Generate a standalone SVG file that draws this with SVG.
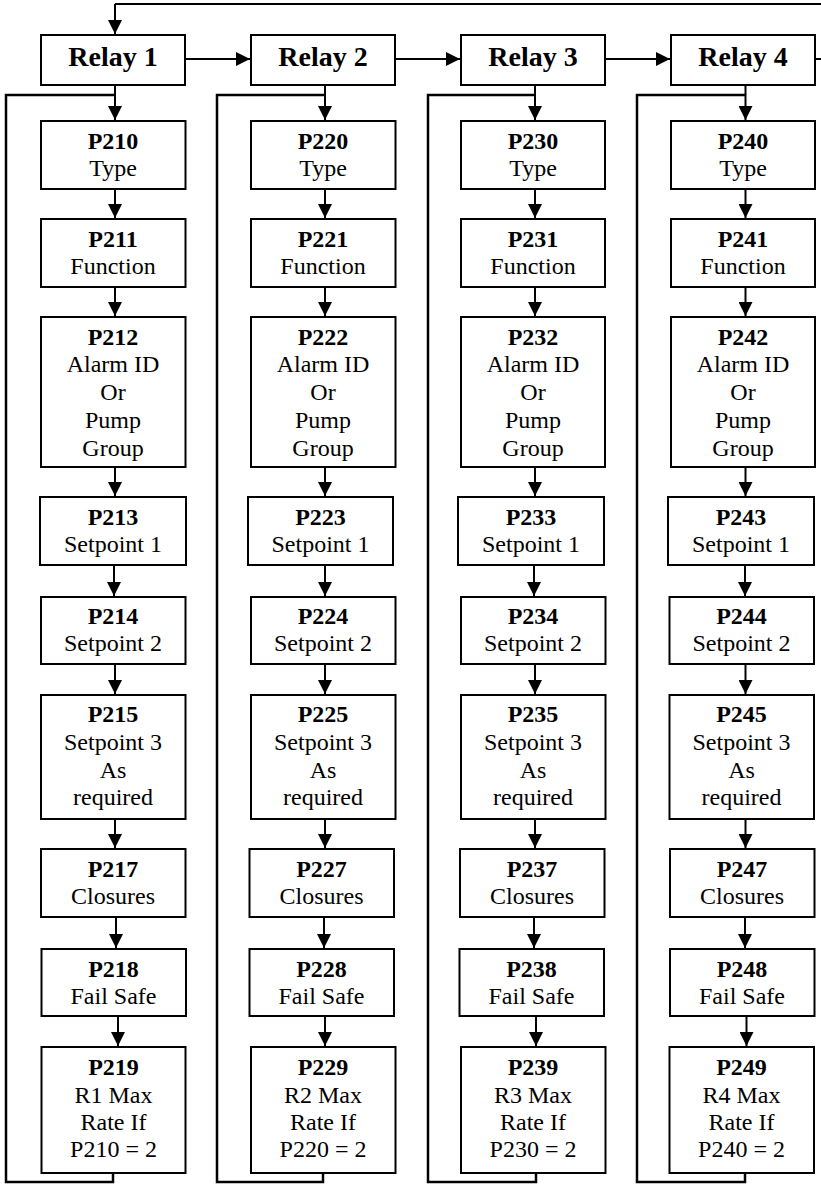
<svg xmlns="http://www.w3.org/2000/svg" width="821" height="1184" viewBox="0 0 821 1184">
<style>
.box{fill:#fff;stroke:#000;stroke-width:2}
.t{font-family:'Liberation Serif',Tinos,'Times New Roman',Times,'DejaVu Serif',serif;font-size:24px;fill:#000;text-anchor:middle}
.b{font-weight:bold}
.relay{font-family:'Liberation Serif',Tinos,'Times New Roman',Times,'DejaVu Serif',serif;font-size:28px;font-weight:bold;fill:#000;text-anchor:middle}
.c{fill:none;stroke:#000;stroke-width:2}
.a{fill:none;stroke:#000;stroke-width:2;marker-end:url(#ah)}
.lp{fill:none;stroke:#000;stroke-width:2.5}
</style>
<defs>
<marker id="ah" viewBox="0 0 14 14" refX="14" refY="7" markerWidth="14" markerHeight="14" markerUnits="userSpaceOnUse" orient="auto">
<path d="M0,0 L14,7 L0,14 z" fill="#000"/>
</marker>
</defs>
<g id="connectors">
<path class="c" d="M815,59 H823 V4 H115"/>
<path class="a" d="M115,4 V34"/>
<path class="a" d="M185,59 H250"/>
<path class="a" d="M395,59 H460"/>
<path class="a" d="M605,59 H670"/>
<path class="a" d="M115,85 V120"/>
<path class="a" d="M115,189 V218"/>
<path class="a" d="M115,287 V316"/>
<path class="a" d="M115,467 V496"/>
<path class="a" d="M114,565 V596"/>
<path class="a" d="M115,664 V694"/>
<path class="a" d="M115,819 V848"/>
<path class="a" d="M116,917 V948"/>
<path class="a" d="M118,1016 V1046"/>
<path class="lp" d="M113,1173 V1182 H6 V95 H115"/>
<path class="a" d="M325,85 V120"/>
<path class="a" d="M325,189 V218"/>
<path class="a" d="M325,287 V316"/>
<path class="a" d="M325,467 V496"/>
<path class="a" d="M325,565 V596"/>
<path class="a" d="M325,664 V694"/>
<path class="a" d="M325,819 V848"/>
<path class="a" d="M324,917 V948"/>
<path class="a" d="M325,1016 V1046"/>
<path class="lp" d="M323,1173 V1182 H217 V95 H325"/>
<path class="a" d="M535,85 V120"/>
<path class="a" d="M535,189 V218"/>
<path class="a" d="M535,287 V316"/>
<path class="a" d="M535,467 V496"/>
<path class="a" d="M534,565 V596"/>
<path class="a" d="M535,664 V694"/>
<path class="a" d="M535,819 V848"/>
<path class="a" d="M534,917 V948"/>
<path class="a" d="M536,1016 V1046"/>
<path class="lp" d="M536,1173 V1182 H428 V95 H535"/>
<path class="a" d="M745.5,85 V120"/>
<path class="a" d="M745.5,189 V218"/>
<path class="a" d="M745.5,287 V316"/>
<path class="a" d="M745.5,467 V496"/>
<path class="a" d="M745,565 V596"/>
<path class="a" d="M745.5,664 V694"/>
<path class="a" d="M745.5,819 V848"/>
<path class="a" d="M745,917 V948"/>
<path class="a" d="M746.5,1016 V1046"/>
<path class="lp" d="M745,1173 V1182 H637 V95 H745.5"/>
</g>

<g id="relay1"><rect class="box" x="41" y="35" width="144" height="50"/><text class="relay" x="113" y="66">Relay 1</text></g>
<g id="relay2"><rect class="box" x="251" y="35" width="144" height="50"/><text class="relay" x="323" y="66">Relay 2</text></g>
<g id="relay3"><rect class="box" x="461" y="35" width="144" height="50"/><text class="relay" x="533" y="66">Relay 3</text></g>
<g id="relay4"><rect class="box" x="671" y="35" width="144" height="50"/><text class="relay" x="743" y="66">Relay 4</text></g>

<g id="p210"><rect class="box" x="41" y="121" width="144.5" height="68"/><text class="t"><tspan class="b" x="113" y="149">P210</tspan><tspan x="113" y="176">Type</tspan></text></g>
<g id="p211"><rect class="box" x="41" y="219" width="144.5" height="68"/><text class="t"><tspan class="b" x="113" y="247">P211</tspan><tspan x="113" y="274">Function</tspan></text></g>
<g id="p212"><rect class="box" x="41" y="317" width="144.5" height="150"/><text class="t"><tspan class="b" x="113" y="345">P212</tspan><tspan x="113" y="372">Alarm ID</tspan><tspan x="113" y="400">Or</tspan><tspan x="113" y="428">Pump</tspan><tspan x="113" y="456">Group</tspan></text></g>
<g id="p213"><rect class="box" x="40" y="497" width="146" height="68"/><text class="t"><tspan class="b" x="113" y="525">P213</tspan><tspan x="113" y="552">Setpoint 1</tspan></text></g>
<g id="p214"><rect class="box" x="41" y="597" width="144.5" height="67"/><text class="t"><tspan class="b" x="113" y="624">P214</tspan><tspan x="113" y="651">Setpoint 2</tspan></text></g>
<g id="p215"><rect class="box" x="41" y="695" width="144.5" height="124"/><text class="t"><tspan class="b" x="113" y="722">P215</tspan><tspan x="113" y="750">Setpoint 3</tspan><tspan x="113" y="778">As</tspan><tspan x="113" y="805">required</tspan></text></g>
<g id="p217"><rect class="box" x="41" y="849" width="144.5" height="68"/><text class="t"><tspan class="b" x="113" y="876.5">P217</tspan><tspan x="113" y="903.5">Closures</tspan></text></g>
<g id="p218"><rect class="box" x="41.5" y="949" width="144.5" height="67"/><text class="t"><tspan class="b" x="113.5" y="976.5">P218</tspan><tspan x="113.5" y="1003.5">Fail Safe</tspan></text></g>
<g id="p219"><rect class="box" x="41.5" y="1047" width="144" height="126"/><text class="t"><tspan class="b" x="113.5" y="1074.5">P219</tspan><tspan x="113.5" y="1102.5">R1 Max</tspan><tspan x="113.5" y="1129.5">Rate If</tspan><tspan x="113.5" y="1157">P210 = 2</tspan></text></g>

<g id="p220"><rect class="box" x="251" y="121" width="144.5" height="68"/><text class="t"><tspan class="b" x="323" y="149">P220</tspan><tspan x="323" y="176">Type</tspan></text></g>
<g id="p221"><rect class="box" x="251" y="219" width="144.5" height="68"/><text class="t"><tspan class="b" x="323" y="247">P221</tspan><tspan x="323" y="274">Function</tspan></text></g>
<g id="p222"><rect class="box" x="251" y="317" width="144.5" height="150"/><text class="t"><tspan class="b" x="323" y="345">P222</tspan><tspan x="323" y="372">Alarm ID</tspan><tspan x="323" y="400">Or</tspan><tspan x="323" y="428">Pump</tspan><tspan x="323" y="456">Group</tspan></text></g>
<g id="p223"><rect class="box" x="248" y="497" width="145" height="68"/><text class="t"><tspan class="b" x="320.5" y="525">P223</tspan><tspan x="320.5" y="552">Setpoint 1</tspan></text></g>
<g id="p224"><rect class="box" x="251" y="597" width="144.5" height="67"/><text class="t"><tspan class="b" x="323" y="624">P224</tspan><tspan x="323" y="651">Setpoint 2</tspan></text></g>
<g id="p225"><rect class="box" x="251" y="695" width="144.5" height="124"/><text class="t"><tspan class="b" x="323" y="722">P225</tspan><tspan x="323" y="750">Setpoint 3</tspan><tspan x="323" y="778">As</tspan><tspan x="323" y="805">required</tspan></text></g>
<g id="p227"><rect class="box" x="249.5" y="849" width="144.5" height="68"/><text class="t"><tspan class="b" x="321.5" y="876.5">P227</tspan><tspan x="321.5" y="903.5">Closures</tspan></text></g>
<g id="p228"><rect class="box" x="249.5" y="949" width="144.5" height="67"/><text class="t"><tspan class="b" x="321.5" y="976.5">P228</tspan><tspan x="321.5" y="1003.5">Fail Safe</tspan></text></g>
<g id="p229"><rect class="box" x="251" y="1047" width="144.5" height="126"/><text class="t"><tspan class="b" x="323" y="1074.5">P229</tspan><tspan x="323" y="1102.5">R2 Max</tspan><tspan x="323" y="1129.5">Rate If</tspan><tspan x="323" y="1157">P220 = 2</tspan></text></g>

<g id="p230"><rect class="box" x="461" y="121" width="144" height="68"/><text class="t"><tspan class="b" x="533" y="149">P230</tspan><tspan x="533" y="176">Type</tspan></text></g>
<g id="p231"><rect class="box" x="461" y="219" width="144" height="68"/><text class="t"><tspan class="b" x="533" y="247">P231</tspan><tspan x="533" y="274">Function</tspan></text></g>
<g id="p232"><rect class="box" x="461" y="317" width="144" height="150"/><text class="t"><tspan class="b" x="533" y="345">P232</tspan><tspan x="533" y="372">Alarm ID</tspan><tspan x="533" y="400">Or</tspan><tspan x="533" y="428">Pump</tspan><tspan x="533" y="456">Group</tspan></text></g>
<g id="p233"><rect class="box" x="458" y="497" width="146" height="68"/><text class="t"><tspan class="b" x="531" y="525">P233</tspan><tspan x="531" y="552">Setpoint 1</tspan></text></g>
<g id="p234"><rect class="box" x="461" y="597" width="144.5" height="67"/><text class="t"><tspan class="b" x="533" y="624">P234</tspan><tspan x="533" y="651">Setpoint 2</tspan></text></g>
<g id="p235"><rect class="box" x="461" y="695" width="144.5" height="124"/><text class="t"><tspan class="b" x="533" y="722">P235</tspan><tspan x="533" y="750">Setpoint 3</tspan><tspan x="533" y="778">As</tspan><tspan x="533" y="805">required</tspan></text></g>
<g id="p237"><rect class="box" x="460" y="849" width="144.5" height="68"/><text class="t"><tspan class="b" x="532" y="876.5">P237</tspan><tspan x="532" y="903.5">Closures</tspan></text></g>
<g id="p238"><rect class="box" x="459.5" y="949" width="144.5" height="67"/><text class="t"><tspan class="b" x="531.5" y="976.5">P238</tspan><tspan x="531.5" y="1003.5">Fail Safe</tspan></text></g>
<g id="p239"><rect class="box" x="461" y="1047" width="144.5" height="126"/><text class="t"><tspan class="b" x="533" y="1074.5">P239</tspan><tspan x="533" y="1102.5">R3 Max</tspan><tspan x="533" y="1129.5">Rate If</tspan><tspan x="533" y="1157">P230 = 2</tspan></text></g>

<g id="p240"><rect class="box" x="671" y="121" width="144" height="68"/><text class="t"><tspan class="b" x="743" y="149">P240</tspan><tspan x="743" y="176">Type</tspan></text></g>
<g id="p241"><rect class="box" x="671" y="219" width="144" height="68"/><text class="t"><tspan class="b" x="743" y="247">P241</tspan><tspan x="743" y="274">Function</tspan></text></g>
<g id="p242"><rect class="box" x="671" y="317" width="144" height="150"/><text class="t"><tspan class="b" x="743" y="345">P242</tspan><tspan x="743" y="372">Alarm ID</tspan><tspan x="743" y="400">Or</tspan><tspan x="743" y="428">Pump</tspan><tspan x="743" y="456">Group</tspan></text></g>
<g id="p243"><rect class="box" x="668" y="497" width="146" height="68"/><text class="t"><tspan class="b" x="741" y="525">P243</tspan><tspan x="741" y="552">Setpoint 1</tspan></text></g>
<g id="p244"><rect class="box" x="669.5" y="597" width="144.5" height="67"/><text class="t"><tspan class="b" x="741.5" y="624">P244</tspan><tspan x="741.5" y="651">Setpoint 2</tspan></text></g>
<g id="p245"><rect class="box" x="669.5" y="695" width="144.5" height="124"/><text class="t"><tspan class="b" x="741.5" y="722">P245</tspan><tspan x="741.5" y="750">Setpoint 3</tspan><tspan x="741.5" y="778">As</tspan><tspan x="741.5" y="805">required</tspan></text></g>
<g id="p247"><rect class="box" x="670" y="849" width="144.5" height="68"/><text class="t"><tspan class="b" x="742" y="876.5">P247</tspan><tspan x="742" y="903.5">Closures</tspan></text></g>
<g id="p248"><rect class="box" x="670" y="949" width="144.5" height="67"/><text class="t"><tspan class="b" x="742" y="976.5">P248</tspan><tspan x="742" y="1003.5">Fail Safe</tspan></text></g>
<g id="p249"><rect class="box" x="669.5" y="1047" width="144.5" height="126"/><text class="t"><tspan class="b" x="741.5" y="1074.5">P249</tspan><tspan x="741.5" y="1102.5">R4 Max</tspan><tspan x="741.5" y="1129.5">Rate If</tspan><tspan x="741.5" y="1157">P240 = 2</tspan></text></g>
</svg>
